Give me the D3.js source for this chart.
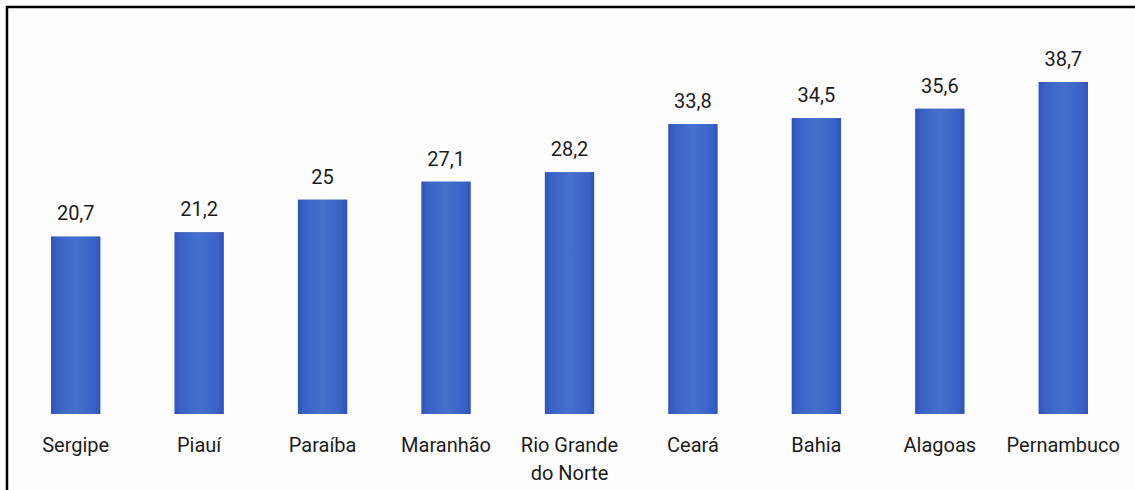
<!DOCTYPE html>
<html><head><meta charset="utf-8">
<script src="https://cdn.jsdelivr.net/npm/d3@7"></script>
<style>body{margin:0;background:#fff}svg{display:block}</style>
</head><body>
<script>
const categories = ["Sergipe","Piauí","Paraíba","Maranhão","Rio Grande do Norte","Ceará","Bahia","Alagoas","Pernambuco"];
const values = [20.7,21.2,25,27.1,28.2,33.8,34.5,35.6,38.7];
const labelLines = [["Sergipe"],["Piauí"],["Paraíba"],["Maranhão"],["Rio Grande","do Norte"],["Ceará"],["Bahia"],["Alagoas"],["Pernambuco"]];

const W = 1135, H = 490;
const svg = d3.select("body").append("svg").attr("width", W).attr("height", H);
const defs = svg.append("defs");
const g = defs.append("linearGradient").attr("id","bg").attr("x1","0").attr("x2","1").attr("y1","0").attr("y2","0");
g.append("stop").attr("offset","0").attr("stop-color","#2f52b6");
g.append("stop").attr("offset","0.12").attr("stop-color","#3a62c6");
g.append("stop").attr("offset","0.5").attr("stop-color","#4470cc");
g.append("stop").attr("offset","0.88").attr("stop-color","#3a62c6");
g.append("stop").attr("offset","1").attr("stop-color","#2f52b6");

svg.append("rect").attr("x",0).attr("y",0).attr("width",W).attr("height",H).attr("fill","#fdfdfd");
svg.append("path").attr("d",`M7,${H+5} L7,7 L${W+5},7`).attr("fill","none").attr("stroke","#000").attr("stroke-width",2.5);

const x = d3.scaleBand().domain(categories).range([14, 1125]).paddingInner(0.6).paddingOuter(0.3);
const y = d3.scaleLinear().domain([0, 38.7]).range([414, 82]);

const font = "Roboto, 'Liberation Sans', sans-serif";
svg.selectAll("rect.bar").data(values).enter().append("rect").attr("class","bar")
  .attr("x",(d,i)=>x(categories[i])).attr("width",x.bandwidth())
  .attr("y",d=>y(d)).attr("height",d=>y(0)-y(d)).attr("fill","url(#bg)");

svg.selectAll("text.val").data(values).enter().append("text").attr("class","val")
  .attr("x",(d,i)=>x(categories[i])+x.bandwidth()/2).attr("y",d=>y(d)-16)
  .attr("text-anchor","middle").attr("font-family",font).attr("font-size",20).attr("fill","#1c1c1c")
  .text(d=>String(d).replace(".",","));

const lab = svg.selectAll("text.cat").data(labelLines).enter().append("text").attr("class","cat")
  .attr("x",(d,i)=>x(categories[i])+x.bandwidth()/2).attr("y",452)
  .attr("text-anchor","middle").attr("font-family",font).attr("font-size",20).attr("fill","#1c1c1c");
lab.each(function(lines){
  const t = d3.select(this);
  lines.forEach((l,j)=>t.append("tspan").attr("x",t.attr("x")).attr("dy", j===0?0:28).text(l));
});
</script>
</body></html>
